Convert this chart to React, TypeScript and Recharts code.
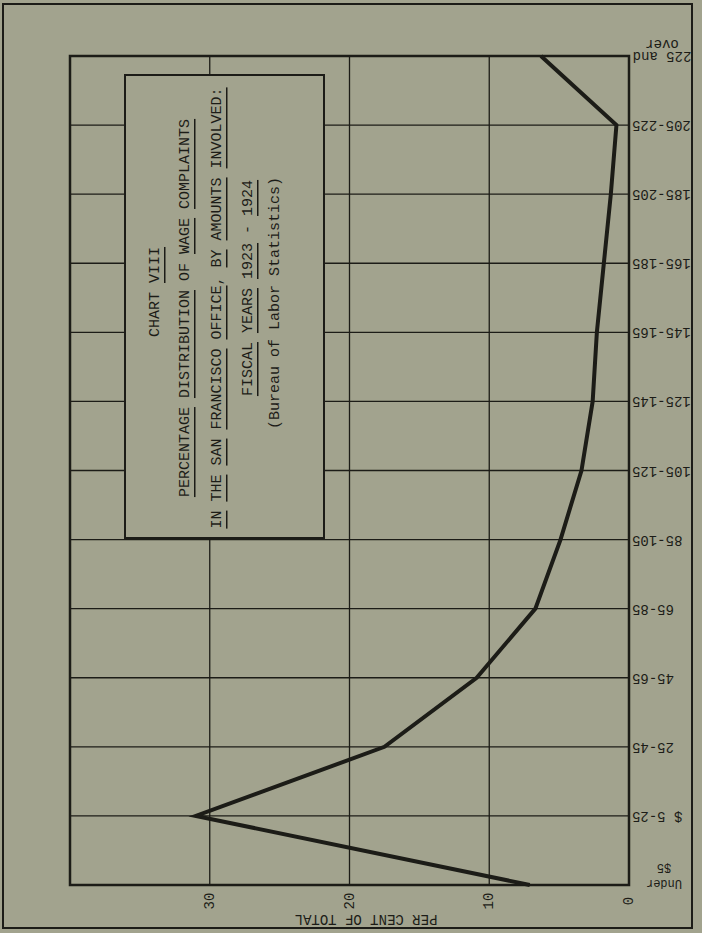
import React from "react";
import {
  LineChart,
  Line,
  XAxis,
  YAxis,
  CartesianGrid,
  ReferenceArea,
} from "recharts";

// wage complaint amounts, smallest first
const ranges = [
  "Under $5",
  "$ 5-25",
  "25-45",
  "45-65",
  "65-85",
  "85-105",
  "105-125",
  "125-145",
  "145-165",
  "165-185",
  "185-205",
  "205-225",
  "225 and over",
];
const rangeLabels = [
  "Under\n$5",
  "$ 5-25",
  "25-45",
  "45-65",
  "65-85",
  "85-105",
  "105-125",
  "125-145",
  "145-165",
  "165-185",
  "185-205",
  "205-225",
  "225 and\nover",
];
// per cent of total complaints
const percents = [7.1, 31.0, 17.5, 10.9, 6.7, 4.9, 3.4, 2.6, 2.3, 1.8, 1.3, 0.9, 6.3];
const valueTicks = [0, 10, 20, 30];

const rows = ranges.map((range, i) => ({
  range,
  label: rangeLabels[i],
  pct: percents[i],
}));

const PAPER = "#a2a38e";
const INK = "#1c1c17";
const MONO = "'Liberation Mono', 'DejaVu Sans Mono', monospace";

function RangeTick(props: any) {
  const { y, payload } = props;
  const idx = ranges.indexOf(payload.value);
  const lines = rangeLabels[idx].split("\n");
  if (lines.length === 1) {
    const ax = 632;
    return (
      <text
        x={ax}
        y={y}
        transform={`rotate(180 ${ax} ${y})`}
        textAnchor="end"
        dominantBaseline="central"
        fontFamily={MONO}
        fontSize={14}
        fill={INK}
      >
        {lines[0]}
      </text>
    );
  }
  const small = idx === 0;
  const cx = small ? 664 : 662;
  const y0 = small ? y - 2 : y;
  return (
    <g>
      {lines.map((ln, i) => {
        const ly = y0 - i * (small ? 16 : 12);
        return (
          <text
            key={i}
            x={cx}
            y={ly}
            transform={`rotate(180 ${cx} ${ly})`}
            textAnchor="middle"
            dominantBaseline="central"
            fontFamily={MONO}
            fontSize={small ? 12 : 14}
            fill={INK}
          >
            {ln}
          </text>
        );
      })}
    </g>
  );
}

function ValueTick(props: any) {
  const { x, payload } = props;
  const ty = 901;
  return (
    <text
      x={x}
      y={ty}
      transform={`rotate(-90 ${x} ${ty})`}
      textAnchor="middle"
      dominantBaseline="central"
      fontFamily={MONO}
      fontSize={14}
      fill={INK}
    >
      {payload.value}
    </text>
  );
}

const U = ({ children }: { children: React.ReactNode }) => (
  <tspan style={{ textDecoration: "underline" }}>{children}</tspan>
);

function TitleLine({ x, y, children }: { x: number; y: number; children: React.ReactNode }) {
  return (
    <text
      x={x}
      y={y}
      transform={`rotate(-90 ${x} ${y})`}
      textAnchor="middle"
      dominantBaseline="central"
      fontFamily={MONO}
      fontSize={15}
      fill={INK}
      style={{ whiteSpace: "pre" }}
    >
      {children}
    </text>
  );
}

function Overlay() {
  return (
    <svg
      width={702}
      height={933}
      style={{ position: "absolute", left: 0, top: 0, pointerEvents: "none" }}
    >
      <rect x={3} y={4} width={689} height={924} fill="none" stroke={INK} strokeWidth={2} />
      <rect x={125} y={75} width={199} height={463} fill={PAPER} stroke={INK} strokeWidth={2} />
      <TitleLine x={155} y={292}>
        {"CHART "}
        <U>VIII</U>
      </TitleLine>
      <TitleLine x={185} y={308}>
        <U>PERCENTAGE</U>
        {" "}
        <U>DISTRIBUTION</U>
        {" OF "}
        <U>WAGE</U>
        {" "}
        <U>COMPLAINTS</U>
      </TitleLine>
      <TitleLine x={217} y={308}>
        <U>IN</U>
        {" "}
        <U>THE</U>
        {" "}
        <U>SAN</U>
        {" "}
        <U>FRANCISCO</U>
        {" "}
        <U>OFFICE</U>
        {", "}
        <U>BY</U>
        {" "}
        <U>AMOUNTS</U>
        {" "}
        <U>INVOLVED:</U>
      </TitleLine>
      <TitleLine x={248} y={288}>
        <U>FISCAL</U>
        {" "}
        <U>YEARS</U>
        {" "}
        <U>1923</U>
        {" - "}
        <U>1924</U>
      </TitleLine>
      <TitleLine x={275} y={303}>
        (Bureau of Labor Statistics)
      </TitleLine>
      <text
        x={366}
        y={919}
        transform={`rotate(180 366 919)`}
        textAnchor="middle"
        dominantBaseline="central"
        fontFamily={MONO}
        fontSize={14}
        fill={INK}
      >
        PER CENT OF TOTAL
      </text>
    </svg>
  );
}

export default function App() {
  return (
    <div
      style={{
        position: "absolute",
        left: 0,
        top: 0,
        width: 702,
        height: 933,
        background: PAPER,
        overflow: "hidden",
      }}
    >
      <LineChart
        layout="vertical"
        width={702}
        height={933}
        data={rows}
        margin={{ top: 56, right: 0, bottom: 0, left: 70 }}
      >
        <CartesianGrid stroke={INK} strokeWidth={1.3} />
        <XAxis
          type="number"
          dataKey="pct"
          domain={[0, 40]}
          ticks={valueTicks}
          reversed
          height={48}
          axisLine={false}
          tickLine={false}
          tick={<ValueTick />}
        />
        <YAxis
          type="category"
          dataKey="range"
          orientation="right"
          reversed
          width={73}
          interval={0}
          axisLine={false}
          tickLine={false}
          tick={<RangeTick />}
        />
        <ReferenceArea
          x1={0}
          x2={40}
          y1={ranges[0]}
          y2={ranges[ranges.length - 1]}
          fill="none"
          fillOpacity={0}
          stroke={INK}
          strokeWidth={2.5}
          ifOverflow="visible"
        />
        <Line
          type="linear"
          dataKey="pct"
          stroke={INK}
          strokeWidth={4}
          strokeLinejoin="miter"
          dot={false}
          activeDot={false}
          isAnimationActive={false}
        />
      </LineChart>
      <Overlay />
    </div>
  );
}
